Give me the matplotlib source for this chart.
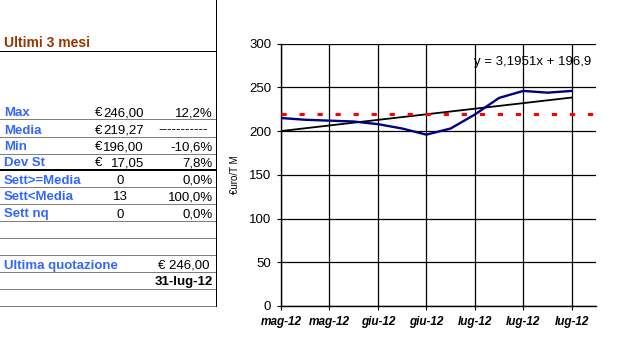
import matplotlib.pyplot as plt

plt.rcParams['font.family'] = ['Liberation Sans', 'DejaVu Sans']

# weekly quotations, last 13 weeks
weeks = list(range(1, 14))
prices = [215, 213, 212, 211, 208, 203, 196, 203, 219, 238, 246, 244, 246]
media = 219.27
slope, intercept = 3.1951, 196.9
tick_weeks = [1, 3, 5, 7, 9, 11, 13]
tick_labels = ['mag-12', 'mag-12', 'giu-12', 'giu-12', 'lug-12', 'lug-12', 'lug-12']

# summary table
row_names = ['Max', 'Media', 'Min', 'Dev St', 'Sett>=Media', 'Sett<Media', 'Sett nq']
row_euro = ['246,00', '219,27', '196,00', '17,05', None, None, None]
row_count = [None, None, None, None, '0', '13', '0']
row_pct = ['12,2%', '-----------', '-10,6%', '7,8%', '0,0%', '100,0%', '0,0%']
last_price = '€ 246,00'
last_date = '31-lug-12'

W, H = 628, 341
fig = plt.figure(figsize=(W / 100, H / 100), dpi=100)
fig.patch.set_facecolor('white')

# ---- table drawn in pixel coordinates ----
tab = fig.add_axes([0, 0, 1, 1])
tab.set_xlim(0, W)
tab.set_ylim(H, 0)
tab.axis('off')

blue = '#3366ff'
fs = 9.5
tab.plot([216, 216], [0, 305.5], color='black', lw=0.72, antialiased=False)
tab.plot([0, 216], [51, 51], color='black', lw=0.72, antialiased=False)
tab.text(4, 47, 'Ultimi 3 mesi', color='#993300', fontsize=10, fontweight='bold', va='baseline')

line_y = [119, 136.5, 153.5, 169.5, 186.5, 203.5, 220.5, 237.5, 254.5, 271.5, 288.5, 305.5]
for i, y in enumerate(line_y):
    if i == 3:
        tab.plot([0, 216], [y, y], color='black', lw=1.44, antialiased=False)
    else:
        tab.plot([0, 216], [y, y], color='black', lw=0.72, ls=(0, (1, 1)))

for i, name in enumerate(row_names):
    base = line_y[i] - 3
    tab.text(4, base, name, color=blue, fontsize=fs, fontweight='bold', va='baseline')
    if row_euro[i] is not None:
        tab.text(95, base, '€', fontsize=fs, va='baseline')
        tab.text(144, base, row_euro[i], fontsize=fs, va='baseline', ha='right')
    if row_count[i] is not None:
        tab.text(120, base, row_count[i], fontsize=fs, va='baseline', ha='center')
    if row_pct[i].startswith('-----'):
        tab.text(183, base, row_pct[i], fontsize=fs, va='baseline', ha='center')
    else:
        tab.text(213, base, row_pct[i], fontsize=fs, va='baseline', ha='right')

tab.text(4, line_y[9] - 3, 'Ultima quotazione', color=blue, fontsize=fs,
         fontweight='bold', va='baseline')
tab.text(209.5, line_y[9] - 3, last_price, fontsize=fs, va='baseline', ha='right')
tab.text(213, line_y[10] - 3, last_date, fontsize=fs, fontweight='bold',
         va='baseline', ha='right')

# ---- chart ----
ax = fig.add_axes([281 / W, 35 / H, 315 / W, 262.3 / H])
ax.set_facecolor('white')

ax.plot(weeks, prices, color='#000080', lw=1.7, zorder=4)
trend = [slope * w + intercept for w in weeks]
ax.plot(weeks, trend, color='black', lw=1.3, zorder=3)
ax.axhline(media, color='#ff0000', lw=2.2, ls=(0, (1.7, 4.2)), dash_capstyle='butt', zorder=5)

ax.set_xlim(1, 14)
ax.set_ylim(0, 300)
ax.set_yticks(range(0, 301, 50))
ax.set_xticks(tick_weeks)
ax.set_xticklabels(tick_labels, fontsize=8.5, fontweight='bold', style='italic')
ax.tick_params(axis='y', labelsize=9.5, length=3, width=0.8, pad=4)
ax.tick_params(axis='x', length=3, width=0.8, pad=4.5)
ax.grid(True, color='black', lw=0.9)
ax.set_axisbelow(True)
for side in ['top', 'right']:
    ax.spines[side].set_visible(False)
for side in ['left', 'bottom']:
    ax.spines[side].set_linewidth(1.0)

ax.set_ylabel('€uro/T M', fontsize=7)
ax.yaxis.set_label_coords(-0.13, 0.5)

ax.text(11.4, 279, 'y = 3,1951x + 196,9', fontsize=9.5, ha='center', va='center')

fig.savefig('out.png', dpi=100, facecolor='white')
